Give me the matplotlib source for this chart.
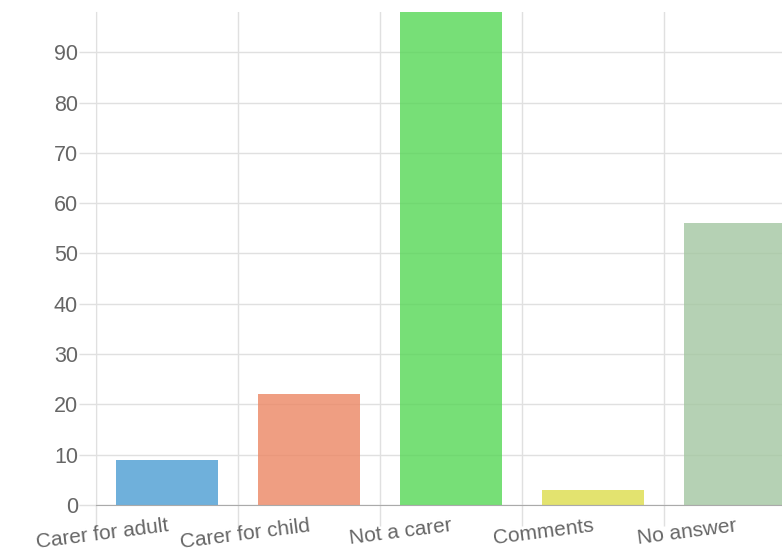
import matplotlib.pyplot as plt
from matplotlib.ticker import FixedLocator, MultipleLocator

plt.rcParams['font.family'] = ['Liberation Sans', 'DejaVu Sans']

categories = ['Carer for adult', 'Carer for child', 'Not a carer', 'Comments', 'No answer']
counts = [9, 22, 105, 3, 56]
colors = ['#4b9dd3', '#ec8663', '#55d755', '#dddc4b', '#a3c6a1']

fig = plt.figure(figsize=(7.82, 5.52), dpi=100)
W, H = 782, 552
ax = fig.add_axes([96 / W, (H - 505) / H, (W - 96) / W, (505 - 12) / H])

x = list(range(len(categories)))
ax.bar(x, counts, width=0.72, color=colors, alpha=0.8, zorder=3)

ax.set_xlim(-0.5, -0.5 + (W - 96) / 142)
ax.set_ylim(0, 98)

# gridlines between categories, labels at centres
ax.xaxis.set_major_locator(FixedLocator([i - 0.5 for i in range(6)]))
ax.set_xticklabels([])
ax.set_xticks(x, minor=True)
ax.set_xticklabels(categories, minor=True, rotation=7.3, ha='right', va='top',
                   rotation_mode='anchor', fontsize=15, color='#666666')
ax.tick_params(axis='x', which='minor', length=0, pad=8)
ax.tick_params(axis='x', which='major', length=15, color='#e0e0e0', width=1)

ax.yaxis.set_major_locator(MultipleLocator(10))
ax.tick_params(axis='y', length=12, color='#e0e0e0', width=1,
               labelsize=15.5, labelcolor='#666666', pad=1)

ax.grid(True, which='major', color='#e0e0e0', linewidth=1, zorder=1)
ax.set_axisbelow(True)

for s in ['top', 'right']:
    ax.spines[s].set_visible(False)
ax.spines['left'].set_color('#e0e0e0')
ax.spines['bottom'].set_color('#aaaaaa')
ax.spines['bottom'].set_zorder(4)

fig.savefig('out.png', dpi=100)
